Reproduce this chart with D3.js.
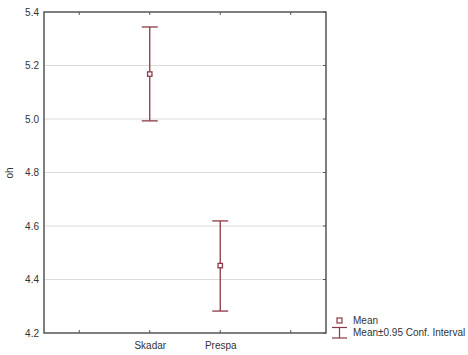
<!DOCTYPE html>
<html><head><meta charset="utf-8">
<script src="https://cdn.jsdelivr.net/npm/d3@7"></script>
<style>body{margin:0;background:#fff}svg{display:block}text{font-family:"Liberation Sans",Arial,sans-serif;fill:#333}</style>
</head><body>
<script>
const slots = ["a", "Skadar", "Prespa", "b"];
const categories = ["Skadar", "Prespa"];
const means = [5.168, 4.452];
const lower = [4.993, 4.282];
const upper = [5.344, 4.619];
const yTicks = [4.2, 4.4, 4.6, 4.8, 5.0, 5.2, 5.4];

const W = 468, H = 355;
const m = {l: 44, r: 142, t: 12, b: 22};
const svg = d3.select("body").append("svg").attr("width", W).attr("height", H);
const x = d3.scalePoint().domain(slots).range([m.l, W - m.r]).padding(0.5);
const y = d3.scaleLinear().domain([4.2, 5.4]).range([H - m.b, m.t]);
const col = "#8a3a44";

// grid
svg.append("g").selectAll("line").data(yTicks.slice(1, -1)).join("line")
  .attr("x1", m.l).attr("x2", W - m.r).attr("y1", d => y(d)).attr("y2", d => y(d))
  .attr("stroke", "#dcdcdc").attr("stroke-width", 1);

// axes
const yAxis = svg.append("g").attr("transform", `translate(${m.l},0)`)
  .call(d3.axisLeft(y).tickValues(yTicks).tickFormat(d3.format(".1f")).tickSize(0).tickPadding(5));
yAxis.select(".domain").remove();
yAxis.selectAll("text").attr("font-size", 10);

const xAxis = svg.append("g").attr("transform", `translate(0,${H - m.b})`)
  .call(d3.axisBottom(x).tickValues(categories).tickSize(0).tickPadding(9));
xAxis.select(".domain").remove();
xAxis.selectAll("text").attr("font-size", 10);

// inner ticks
const tk = svg.append("g").attr("stroke", "#555").attr("stroke-width", 1);
slots.forEach(s => {
  tk.append("line").attr("x1", x(s)).attr("x2", x(s)).attr("y1", H - m.b).attr("y2", H - m.b - 3);
  tk.append("line").attr("x1", x(s)).attr("x2", x(s)).attr("y1", m.t).attr("y2", m.t + 3);
});
yTicks.forEach(v => {
  tk.append("line").attr("x1", W - m.r).attr("x2", W - m.r - 3).attr("y1", y(v)).attr("y2", y(v));
});

// frame
svg.append("rect").attr("x", m.l).attr("y", m.t).attr("width", W - m.r - m.l).attr("height", H - m.b - m.t)
  .attr("fill", "none").attr("stroke", "#555").attr("stroke-width", 1.5);

// y label
svg.append("text").attr("transform", `translate(13,173) rotate(-90)`)
  .attr("text-anchor", "middle").attr("font-size", 10).text("oh");

// error bars
const g = svg.append("g").attr("stroke", col).attr("stroke-width", 1.3).attr("fill", "none");
categories.forEach((c, i) => {
  const cx = x(c);
  g.append("line").attr("x1", cx).attr("x2", cx).attr("y1", y(lower[i])).attr("y2", y(upper[i]));
  g.append("line").attr("x1", cx - 8).attr("x2", cx + 8).attr("y1", y(lower[i])).attr("y2", y(lower[i]));
  g.append("line").attr("x1", cx - 8).attr("x2", cx + 8).attr("y1", y(upper[i])).attr("y2", y(upper[i]));
  g.append("rect").attr("x", cx - 2.2).attr("y", y(means[i]) - 2.2).attr("width", 4.4).attr("height", 4.4)
    .attr("fill", "#fff").attr("stroke-width", 1.3);
});

// legend
const lg = svg.append("g");
lg.append("rect").attr("x", 337).attr("y", 318).attr("width", 5).attr("height", 5)
  .attr("fill", "#fff").attr("stroke", col).attr("stroke-width", 1.2);
lg.append("line").attr("x1", 332).attr("x2", 347).attr("y1", 327.5).attr("y2", 327.5).attr("stroke", col).attr("stroke-width", 1.2);
lg.append("line").attr("x1", 332).attr("x2", 347).attr("y1", 338).attr("y2", 338).attr("stroke", col).attr("stroke-width", 1.2);
lg.append("line").attr("x1", 339.5).attr("x2", 339.5).attr("y1", 327.5).attr("y2", 338).attr("stroke", col).attr("stroke-width", 1.2);
lg.append("text").attr("x", 353).attr("y", 324).attr("font-size", 10).text("Mean");
lg.append("text").attr("x", 353).attr("y", 336).attr("font-size", 10).text("Mean±0.95 Conf. Interval");
</script>
</body></html>
